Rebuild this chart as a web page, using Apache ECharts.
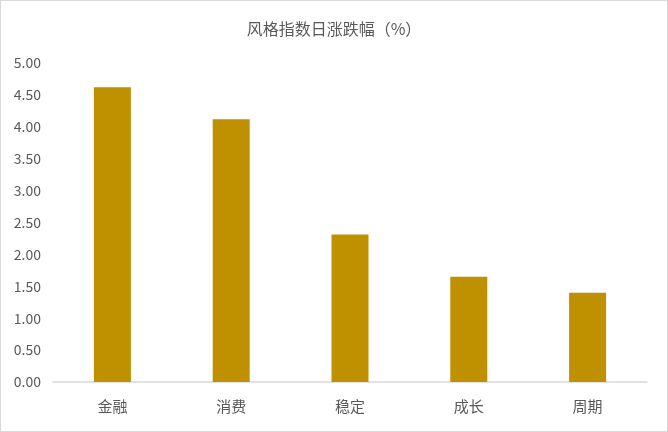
<!DOCTYPE html>
<html>
<head>
<meta charset="utf-8">
<script src="https://cdn.jsdelivr.net/npm/echarts@6/dist/echarts.min.js"></script>
<style>
  html, body { margin: 0; padding: 0; background: #fff; }
  #chart { width: 668px; height: 432px; box-sizing: border-box; border: 1px solid #D9D9D9; }
</style>
</head>
<body>
<div id="chart"></div>
<script>
// Style index daily change (%)
const categories = ['金融', '消费', '稳定', '成长', '周期'];
const changes = [4.62, 4.12, 2.31, 1.65, 1.40];
const yTicks = { min: 0, max: 5, interval: 0.5 };

const chart = echarts.init(document.getElementById('chart'));
const font = '"Noto Sans CJK SC", "Noto Sans", sans-serif';

chart.setOption({
  animation: false,
  title: {
    text: '风格指数日涨跌幅（%）',
    left: 'center',
    top: 15,
    textStyle: { fontFamily: font, fontSize: 16, fontWeight: 'normal', color: '#595959' }
  },
  grid: { left: 52, right: 20, top: 62, bottom: 49, containLabel: false },
  xAxis: {
    type: 'category',
    data: categories,
    axisLine: { lineStyle: { color: '#D9D9D9', width: 1.5 } },
    axisTick: { show: false },
    axisLabel: { fontFamily: font, fontSize: 15, color: '#595959', margin: 17 }
  },
  yAxis: {
    type: 'value',
    min: yTicks.min,
    max: yTicks.max,
    interval: yTicks.interval,
    axisLine: { show: false },
    axisTick: { show: false },
    splitLine: { show: false },
    axisLabel: {
      fontFamily: font, fontSize: 14, color: '#595959', margin: 12,
      formatter: v => v.toFixed(2)
    }
  },
  series: [{
    type: 'bar',
    data: changes,
    barWidth: 37,
    itemStyle: { color: '#BF9000' }
  }]
});
</script>
</body>
</html>
